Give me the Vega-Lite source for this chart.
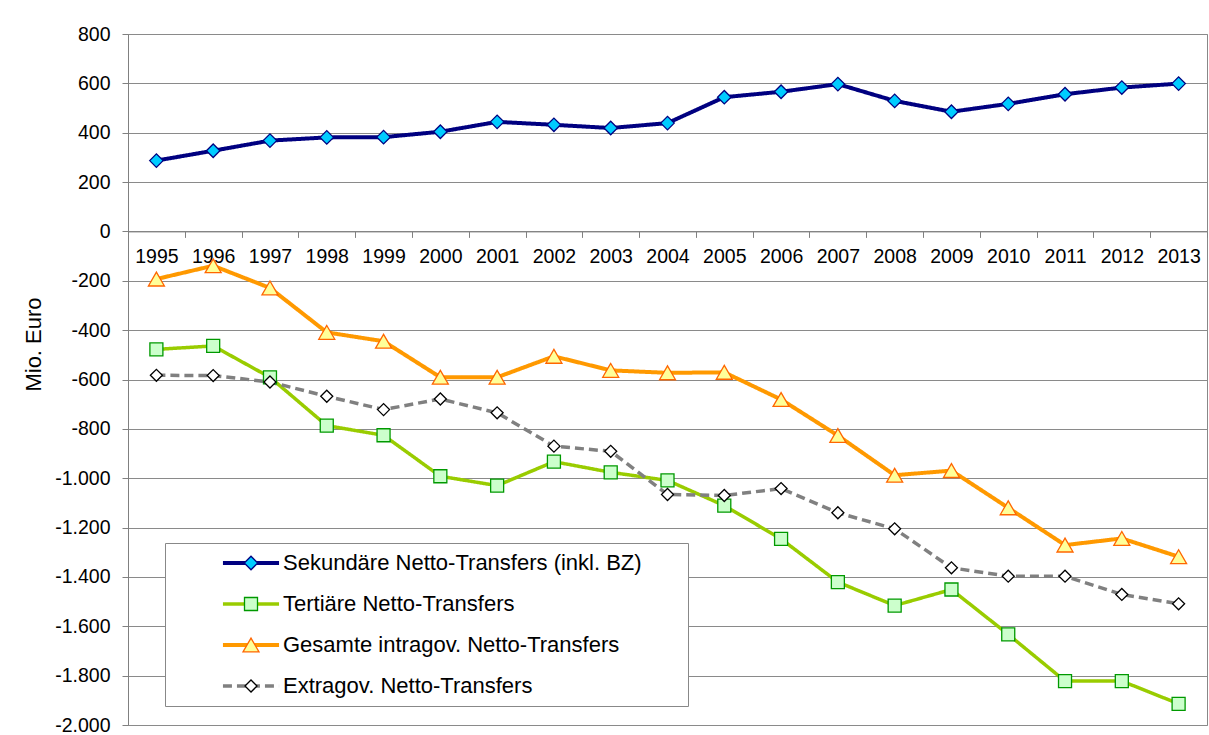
{
  "$schema": "https://vega.github.io/schema/vega-lite/v6.json",
  "width": 1079,
  "height": 691,
  "autosize": {"type": "none"},
  "padding": {"left": 128, "top": 34, "right": 2, "bottom": 10},
  "background": "white",
  "config": {
    "view": {"stroke": "#888888", "strokeWidth": 1},
    "font": "Liberation Sans"
  },
  "data": {
    "values": [
      {"year": "1995", "series": "Sekundäre Netto-Transfers (inkl. BZ)", "value": 287},
      {"year": "1996", "series": "Sekundäre Netto-Transfers (inkl. BZ)", "value": 327},
      {"year": "1997", "series": "Sekundäre Netto-Transfers (inkl. BZ)", "value": 368},
      {"year": "1998", "series": "Sekundäre Netto-Transfers (inkl. BZ)", "value": 381},
      {"year": "1999", "series": "Sekundäre Netto-Transfers (inkl. BZ)", "value": 382},
      {"year": "2000", "series": "Sekundäre Netto-Transfers (inkl. BZ)", "value": 404},
      {"year": "2001", "series": "Sekundäre Netto-Transfers (inkl. BZ)", "value": 444},
      {"year": "2002", "series": "Sekundäre Netto-Transfers (inkl. BZ)", "value": 432},
      {"year": "2003", "series": "Sekundäre Netto-Transfers (inkl. BZ)", "value": 419},
      {"year": "2004", "series": "Sekundäre Netto-Transfers (inkl. BZ)", "value": 439},
      {"year": "2005", "series": "Sekundäre Netto-Transfers (inkl. BZ)", "value": 544},
      {"year": "2006", "series": "Sekundäre Netto-Transfers (inkl. BZ)", "value": 566},
      {"year": "2007", "series": "Sekundäre Netto-Transfers (inkl. BZ)", "value": 597},
      {"year": "2008", "series": "Sekundäre Netto-Transfers (inkl. BZ)", "value": 529},
      {"year": "2009", "series": "Sekundäre Netto-Transfers (inkl. BZ)", "value": 485},
      {"year": "2010", "series": "Sekundäre Netto-Transfers (inkl. BZ)", "value": 517},
      {"year": "2011", "series": "Sekundäre Netto-Transfers (inkl. BZ)", "value": 556},
      {"year": "2012", "series": "Sekundäre Netto-Transfers (inkl. BZ)", "value": 583},
      {"year": "2013", "series": "Sekundäre Netto-Transfers (inkl. BZ)", "value": 599},
      {"year": "1995", "series": "Tertiäre Netto-Transfers", "value": -478},
      {"year": "1996", "series": "Tertiäre Netto-Transfers", "value": -464},
      {"year": "1997", "series": "Tertiäre Netto-Transfers", "value": -591},
      {"year": "1998", "series": "Tertiäre Netto-Transfers", "value": -787},
      {"year": "1999", "series": "Tertiäre Netto-Transfers", "value": -826},
      {"year": "2000", "series": "Tertiäre Netto-Transfers", "value": -992},
      {"year": "2001", "series": "Tertiäre Netto-Transfers", "value": -1030},
      {"year": "2002", "series": "Tertiäre Netto-Transfers", "value": -933},
      {"year": "2003", "series": "Tertiäre Netto-Transfers", "value": -976},
      {"year": "2004", "series": "Tertiäre Netto-Transfers", "value": -1009},
      {"year": "2005", "series": "Tertiäre Netto-Transfers", "value": -1111},
      {"year": "2006", "series": "Tertiäre Netto-Transfers", "value": -1246},
      {"year": "2007", "series": "Tertiäre Netto-Transfers", "value": -1421},
      {"year": "2008", "series": "Tertiäre Netto-Transfers", "value": -1516},
      {"year": "2009", "series": "Tertiäre Netto-Transfers", "value": -1451},
      {"year": "2010", "series": "Tertiäre Netto-Transfers", "value": -1633},
      {"year": "2011", "series": "Tertiäre Netto-Transfers", "value": -1822},
      {"year": "2012", "series": "Tertiäre Netto-Transfers", "value": -1822},
      {"year": "2013", "series": "Tertiäre Netto-Transfers", "value": -1914},
      {"year": "1995", "series": "Gesamte intragov. Netto-Transfers", "value": -193},
      {"year": "1996", "series": "Gesamte intragov. Netto-Transfers", "value": -139},
      {"year": "1997", "series": "Gesamte intragov. Netto-Transfers", "value": -229},
      {"year": "1998", "series": "Gesamte intragov. Netto-Transfers", "value": -409},
      {"year": "1999", "series": "Gesamte intragov. Netto-Transfers", "value": -445},
      {"year": "2000", "series": "Gesamte intragov. Netto-Transfers", "value": -591},
      {"year": "2001", "series": "Gesamte intragov. Netto-Transfers", "value": -591},
      {"year": "2002", "series": "Gesamte intragov. Netto-Transfers", "value": -506},
      {"year": "2003", "series": "Gesamte intragov. Netto-Transfers", "value": -563},
      {"year": "2004", "series": "Gesamte intragov. Netto-Transfers", "value": -573},
      {"year": "2005", "series": "Gesamte intragov. Netto-Transfers", "value": -571},
      {"year": "2006", "series": "Gesamte intragov. Netto-Transfers", "value": -681},
      {"year": "2007", "series": "Gesamte intragov. Netto-Transfers", "value": -827},
      {"year": "2008", "series": "Gesamte intragov. Netto-Transfers", "value": -988},
      {"year": "2009", "series": "Gesamte intragov. Netto-Transfers", "value": -969},
      {"year": "2010", "series": "Gesamte intragov. Netto-Transfers", "value": -1120},
      {"year": "2011", "series": "Gesamte intragov. Netto-Transfers", "value": -1271},
      {"year": "2012", "series": "Gesamte intragov. Netto-Transfers", "value": -1244},
      {"year": "2013", "series": "Gesamte intragov. Netto-Transfers", "value": -1318},
      {"year": "1995", "series": "Extragov. Netto-Transfers", "value": -583},
      {"year": "1996", "series": "Extragov. Netto-Transfers", "value": -584},
      {"year": "1997", "series": "Extragov. Netto-Transfers", "value": -610},
      {"year": "1998", "series": "Extragov. Netto-Transfers", "value": -668},
      {"year": "1999", "series": "Extragov. Netto-Transfers", "value": -722},
      {"year": "2000", "series": "Extragov. Netto-Transfers", "value": -679},
      {"year": "2001", "series": "Extragov. Netto-Transfers", "value": -735},
      {"year": "2002", "series": "Extragov. Netto-Transfers", "value": -870},
      {"year": "2003", "series": "Extragov. Netto-Transfers", "value": -891},
      {"year": "2004", "series": "Extragov. Netto-Transfers", "value": -1066},
      {"year": "2005", "series": "Extragov. Netto-Transfers", "value": -1070},
      {"year": "2006", "series": "Extragov. Netto-Transfers", "value": -1042},
      {"year": "2007", "series": "Extragov. Netto-Transfers", "value": -1140},
      {"year": "2008", "series": "Extragov. Netto-Transfers", "value": -1205},
      {"year": "2009", "series": "Extragov. Netto-Transfers", "value": -1363},
      {"year": "2010", "series": "Extragov. Netto-Transfers", "value": -1397},
      {"year": "2011", "series": "Extragov. Netto-Transfers", "value": -1397},
      {"year": "2012", "series": "Extragov. Netto-Transfers", "value": -1471},
      {"year": "2013", "series": "Extragov. Netto-Transfers", "value": -1509}
    ]
  },
  "encoding": {
    "x": {
      "field": "year",
      "type": "ordinal",
      "scale": {"type": "band", "paddingInner": 0, "paddingOuter": 0},
      "axis": {
        "title": null,
        "offset": -493.6,
        "tickBand": "extent",
        "tickSize": 6,
        "tickColor": "#808080",
        "domainColor": "#808080",
        "labelAngle": 0,
        "labelFont": "Liberation Sans",
        "labelFontSize": 19.5,
        "labelColor": "#000000",
        "labelPadding": 10,
        "grid": false
      }
    },
    "y": {
      "field": "value",
      "type": "quantitative",
      "scale": {"domain": [-2000, 800], "nice": false, "zero": false},
      "axis": {
        "values": [-2000, -1800, -1600, -1400, -1200, -1000, -800, -600, -400, -200, 0, 200, 400, 600, 800],
        "labelExpr": "(datum.value < 0 ? '-' : '') + replace(format(abs(datum.value), ','), ',', '.')",
        "grid": true,
        "gridColor": "#8a8a8a",
        "gridWidth": 1,
        "domainColor": "#808080",
        "tickColor": "#808080",
        "tickSize": 6,
        "labelFont": "Liberation Sans",
        "labelFontSize": 19.5,
        "labelColor": "#000000",
        "labelPadding": 12,
        "title": "Mio. Euro",
        "titleFont": "Liberation Sans",
        "titleFontSize": 22,
        "titleFontWeight": "normal",
        "titleColor": "#000000",
        "titleAngle": -90,
        "titleX": -95,
        "titleY": 310,
        "titleAlign": "center",
        "titleBaseline": "middle"
      }
    }
  },
  "layer": [
    {
      "mark": {"type": "line", "strokeJoin": "round"},
      "encoding": {
        "color": {
          "field": "series",
          "type": "nominal",
          "scale": {
            "domain": ["Sekundäre Netto-Transfers (inkl. BZ)", "Tertiäre Netto-Transfers", "Gesamte intragov. Netto-Transfers", "Extragov. Netto-Transfers"],
            "range": ["#000080", "#99CC00", "#FF9900", "#808080"]
          },
          "legend": {
            "title": null,
            "orient": "none",
            "legendX": 37,
            "legendY": 509,
            "zindex": 1,
            "fillColor": "#ffffff",
            "strokeColor": "#888888",
            "padding": 9,
            "rowPadding": 19,
            "symbolType": "M-3.3,0H3.3",
            "symbolSize": 289,
            "symbolOffset": 66,
            "labelOffset": 21,
            "labelFont": "Liberation Sans",
            "labelFontSize": 22,
            "labelColor": "#000000",
            "labelLimit": 1000,
            "labelExpr": "datum.label + '\u00a0\u00a0\u00a0\u00a0\u00a0\u00a0\u200b'"
          }
        },
        "strokeDash": {
          "field": "series",
          "type": "nominal",
          "scale": {
            "domain": ["Sekundäre Netto-Transfers (inkl. BZ)", "Tertiäre Netto-Transfers", "Gesamte intragov. Netto-Transfers", "Extragov. Netto-Transfers"],
            "range": [[1, 0], [1, 0], [1, 0], [9, 5]]
          }
        },
        "strokeWidth": {
          "field": "series",
          "type": "nominal",
          "scale": {
            "type": "ordinal",
            "domain": ["Sekundäre Netto-Transfers (inkl. BZ)", "Tertiäre Netto-Transfers", "Gesamte intragov. Netto-Transfers", "Extragov. Netto-Transfers"],
            "range": [4, 3.5, 4, 3.5]
          }
        }
      }
    },
    {
      "mark": {"type": "point", "filled": true, "opacity": 1, "strokeWidth": 1.3},
      "encoding": {
        "fill": {
          "field": "series",
          "type": "nominal",
          "sort": null,
          "scale": {"range": ["#00CCFF", "#CCFFCC", "#FFFF99", "#FFFFFF"]}
        },
        "stroke": {
          "field": "series",
          "type": "nominal",
          "sort": null,
          "scale": {"range": ["#000080", "#009900", "#FF6600", "#000000"]}
        },
        "size": {
          "field": "series",
          "type": "nominal",
          "sort": null,
          "scale": {"type": "ordinal", "range": [182, 169, 256, 144]}
        },
        "shape": {
          "field": "series",
          "type": "nominal",
          "sort": null,
          "scale": {"range": ["diamond", "square", "triangle-up", "diamond"]},
          "legend": {
            "title": null,
            "orient": "none",
            "legendX": 37,
            "legendY": 509,
            "zindex": 2,
            "padding": 9,
            "rowPadding": 19,
            "symbolStrokeWidth": 1.3,
            "symbolOffset": 66,
            "labelOffset": 21,
            "labelFont": "Liberation Sans",
            "labelFontSize": 22,
            "labelOpacity": 0,
            "labelLimit": 1000,
            "labelExpr": "''"
          }
        }
      }
    }
  ]
}
